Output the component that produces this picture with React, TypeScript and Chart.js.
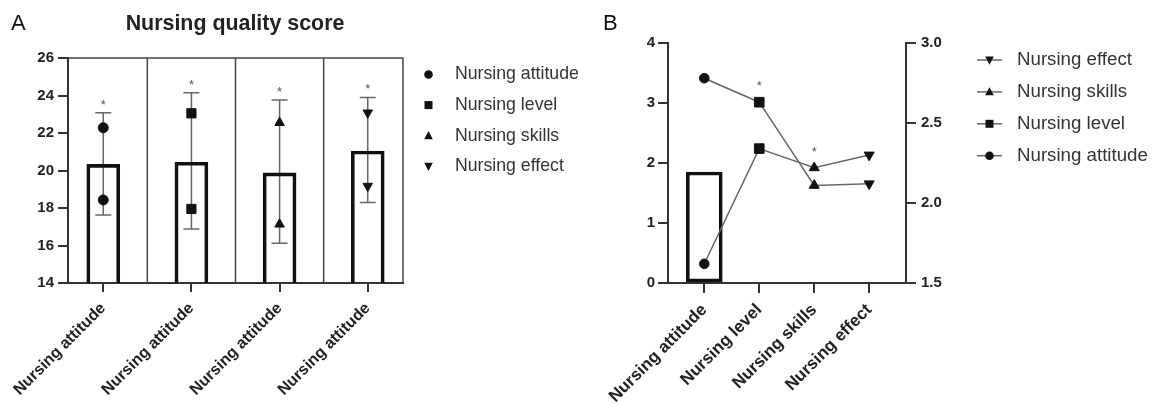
import React, { useEffect, useRef } from 'react';
import { Chart, registerables } from 'chart.js';
Chart.register(...registerables);

const FONT = '"Liberation Sans", Arial, Helvetica, sans-serif';

// ---------- Panel A data ----------
const categoriesA = ['Nursing attitude', 'Nursing attitude', 'Nursing attitude', 'Nursing attitude'];
const meansA = [20.33, 20.44, 19.87, 21.04];
const errLowA = [17.63, 16.88, 16.12, 18.3];
const errHighA = [23.08, 24.15, 23.76, 23.9];
const attitudePtsA = [22.28, 18.43];
const levelPtsA = [23.05, 17.95];
const skillsPtsA = [22.55, 17.13];
const effectPtsA = [23.08, 19.17];
const seriesNamesA = ['Nursing attitude', 'Nursing level', 'Nursing skills', 'Nursing effect'];
const titleA = 'Nursing quality score';

// ---------- Panel B data ----------
const categoriesB = ['Nursing attitude', 'Nursing level', 'Nursing skills', 'Nursing effect'];
const barB = [1.85];
const upperLineB = [2.78, 2.63, 2.11, 2.12];
const lowerLineB = [1.62, 2.34, 2.22, 2.3];
const sigUpperB = [false, true, false, false];
const sigLowerB = [false, false, true, false];
const legendNamesB = ['Nursing effect', 'Nursing skills', 'Nursing level', 'Nursing attitude'];

// marker shapes per category (style only)
const SHAPES = [
  { style: 'circle', rot: 0, r: 5 },
  { style: 'rect', rot: 0, r: 6.5 },
  { style: 'triangle', rot: 0, r: 5.5 },
  { style: 'triangle', rot: 180, r: 5.5 },
];

function marker(ctx: CanvasRenderingContext2D, kind: number, x: number, y: number, s: number) {
  ctx.save();
  ctx.fillStyle = '#111';
  ctx.beginPath();
  if (kind === 0) {
    ctx.arc(x, y, s, 0, Math.PI * 2);
  } else if (kind === 1) {
    ctx.rect(x - s, y - s, 2 * s, 2 * s);
  } else if (kind === 2) {
    ctx.moveTo(x, y - s * 1.1);
    ctx.lineTo(x + s, y + s * 0.8);
    ctx.lineTo(x - s, y + s * 0.8);
    ctx.closePath();
  } else {
    ctx.moveTo(x, y + s * 1.1);
    ctx.lineTo(x + s, y - s * 0.8);
    ctx.lineTo(x - s, y - s * 0.8);
    ctx.closePath();
  }
  ctx.fill();
  ctx.restore();
}

const yTickFont = { family: FONT, size: 15, weight: 'bold' as const };
const xTickFontA = { family: FONT, size: 16, weight: 'bold' as const };
const xTickFontB = { family: FONT, size: 17, weight: 'bold' as const };

export default function App() {
  const refA = useRef<HTMLCanvasElement>(null);
  const refB = useRef<HTMLCanvasElement>(null);

  useEffect(() => {
    // ---------------- Chart A ----------------
    const decorA = {
      id: 'decorA',
      beforeDatasetsDraw(chart: any) {
        const { ctx, chartArea: ca, scales } = chart;
        const xs = scales.x, ys = scales.y;
        ctx.save();
        // frame + dividers
        ctx.strokeStyle = '#444';
        ctx.lineWidth = 1.5;
        ctx.beginPath();
        ctx.moveTo(ca.left, ca.top);
        ctx.lineTo(ca.right, ca.top);
        ctx.lineTo(ca.right, ca.bottom);
        for (let i = 0; i < categoriesA.length - 1; i++) {
          const px = xs.getPixelForValue(i + 0.5);
          ctx.moveTo(px, ca.top);
          ctx.lineTo(px, ca.bottom);
        }
        ctx.stroke();
        // error bars
        ctx.strokeStyle = '#666';
        ctx.lineWidth = 1.5;
        for (let i = 0; i < meansA.length; i++) {
          const px = xs.getPixelForValue(i);
          const lo = ys.getPixelForValue(errLowA[i]);
          const hi = ys.getPixelForValue(errHighA[i]);
          ctx.beginPath();
          ctx.moveTo(px, lo);
          ctx.lineTo(px, hi);
          ctx.moveTo(px - 8, lo);
          ctx.lineTo(px + 8, lo);
          ctx.moveTo(px - 8, hi);
          ctx.lineTo(px + 8, hi);
          ctx.stroke();
        }
        ctx.restore();
      },
      afterDraw(chart: any) {
        const { ctx, scales } = chart;
        const xs = scales.x, ys = scales.y;
        ctx.save();
        // asterisks
        ctx.fillStyle = '#555';
        ctx.font = `13px ${FONT}`;
        ctx.textAlign = 'center';
        ctx.textBaseline = 'alphabetic';
        for (let i = 0; i < meansA.length; i++) {
          const px = xs.getPixelForValue(i);
          const hi = ys.getPixelForValue(errHighA[i]);
          ctx.fillText('*', px, hi - 4);
        }
        // panel letter
        ctx.fillStyle = '#111';
        ctx.textAlign = 'left';
        ctx.font = `22px ${FONT}`;
        ctx.fillText('A', 11, 30);
        // title
        ctx.fillStyle = '#222';
        ctx.textAlign = 'center';
        ctx.font = `bold 21.4px ${FONT}`;
        ctx.fillText(titleA, 235, 30);
        // legend
        ctx.textAlign = 'left';
        ctx.textBaseline = 'middle';
        ctx.font = `17.7px ${FONT}`;
        const sizes = [4.3, 4, 4.3, 4.3];
        seriesNamesA.forEach((name, i) => {
          const y = 74.5 + i * 30.6;
          marker(ctx, i, 428.5, y, sizes[i]);
          ctx.fillStyle = '#333';
          ctx.fillText(name, 455, y);
        });
        ctx.restore();
      },
    };

    const ptsA = [attitudePtsA, levelPtsA, skillsPtsA, effectPtsA];
    const chartA = new Chart(refA.current!, {
      type: 'bar',
      data: {
        datasets: [
          ...ptsA.map((arr, i) => ({
            type: 'scatter' as const,
            label: seriesNamesA[i],
            data: arr.map((y) => ({ x: i, y })),
            pointStyle: SHAPES[i].style as any,
            rotation: SHAPES[i].rot,
            pointRadius: SHAPES[i].r,
            backgroundColor: '#111',
            borderColor: '#111',
            borderWidth: 1,
          })),
          {
            type: 'bar' as const,
            label: 'mean',
            data: meansA.map((y, i) => ({ x: i, y })),
            backgroundColor: 'rgba(0,0,0,0)',
            borderColor: '#111',
            borderWidth: 3,
            borderSkipped: false,
            barThickness: 33,
          },
        ] as any,
      },
      options: {
        responsive: false,
        animation: false,
        layout: { padding: { left: 0, top: 58, right: 187, bottom: 0 } },
        plugins: { legend: { display: false }, tooltip: { enabled: false }, title: { display: false } },
        scales: {
          x: {
            type: 'linear',
            min: -0.4,
            max: 3.4,
            offset: false,
            afterBuildTicks: (s: any) => {
              s.ticks = categoriesA.map((_, i) => ({ value: i }));
            },
            afterFit: (s: any) => {
              s.height = 121;
            },
            ticks: {
              autoSkip: false,
              minRotation: 45,
              maxRotation: 45,
              padding: 7,
              color: '#222',
              font: xTickFontA,
              callback: (_v: any, idx: number) => categoriesA[idx],
            },
            grid: { offset: false, drawOnChartArea: false, drawTicks: true, tickLength: 9, color: '#333', lineWidth: 2 },
            border: { display: true, color: '#333', width: 2 },
          },
          y: {
            type: 'linear',
            min: 14,
            max: 26,
            afterFit: (s: any) => {
              s.width = 68;
            },
            ticks: { stepSize: 2, padding: 4, color: '#222', font: yTickFont },
            grid: { drawOnChartArea: false, drawTicks: true, tickLength: 10, color: '#333', lineWidth: 2 },
            border: { display: true, color: '#333', width: 2 },
          },
        },
      } as any,
      plugins: [decorA],
    });

    // ---------------- Chart B ----------------
    const decorB = {
      id: 'decorB',
      afterDraw(chart: any) {
        const { ctx, scales } = chart;
        const xs = scales.x, y2 = scales.y2;
        ctx.save();
        ctx.fillStyle = '#555';
        ctx.font = `13px ${FONT}`;
        ctx.textAlign = 'center';
        ctx.textBaseline = 'alphabetic';
        const stars = (vals: number[], sig: boolean[]) => {
          sig.forEach((s, i) => {
            if (!s) return;
            const px = xs.getPixelForValue(i);
            const py = y2.getPixelForValue(vals[i]);
            ctx.fillText('*', px, py - 12);
          });
        };
        stars(upperLineB, sigUpperB);
        stars(lowerLineB, sigLowerB);
        // panel letter
        ctx.fillStyle = '#111';
        ctx.textAlign = 'left';
        ctx.font = `22px ${FONT}`;
        ctx.fillText('B', 13, 30);
        // legend
        ctx.textBaseline = 'middle';
        ctx.font = `18.7px ${FONT}`;
        const kinds = [3, 2, 1, 0];
        const sizes = [4.3, 4.3, 4, 4.3];
        legendNamesB.forEach((name, i) => {
          const y = 60 + i * 31.9;
          ctx.strokeStyle = '#666';
          ctx.lineWidth = 1.5;
          ctx.beginPath();
          ctx.moveTo(387, y);
          ctx.lineTo(412, y);
          ctx.stroke();
          marker(ctx, kinds[i], 399.5, y, sizes[i]);
          ctx.fillStyle = '#333';
          ctx.fillText(name, 427, y);
        });
        ctx.restore();
      },
    };

    const lineDs = (vals: number[], label: string) => ({
      type: 'line' as const,
      label,
      data: vals.map((y, i) => ({ x: i, y })),
      yAxisID: 'y2',
      borderColor: '#666',
      borderWidth: 1.5,
      pointStyle: SHAPES.map((s) => s.style) as any,
      pointRotation: SHAPES.map((s) => s.rot),
      pointRadius: [4.8, 6.8, 5.8, 5.8],
      pointBackgroundColor: '#111',
      pointBorderColor: '#111',
      pointBorderWidth: 1,
      fill: false,
      tension: 0,
    });

    const chartB = new Chart(refB.current!, {
      type: 'bar',
      data: {
        datasets: [
          lineDs(upperLineB, 'upper'),
          lineDs(lowerLineB, 'lower'),
          {
            type: 'bar' as const,
            label: 'bar',
            data: barB.map((y, i) => ({ x: i, y })),
            yAxisID: 'y',
            backgroundColor: 'rgba(0,0,0,0)',
            borderColor: '#111',
            borderWidth: 3,
            borderSkipped: false,
            barThickness: 36,
          },
        ] as any,
      },
      options: {
        responsive: false,
        animation: false,
        layout: { padding: { left: 0, top: 43, right: 207, bottom: 0 } },
        plugins: { legend: { display: false }, tooltip: { enabled: false } },
        scales: {
          x: {
            type: 'linear',
            min: -0.66,
            max: 3.67,
            offset: false,
            afterBuildTicks: (s: any) => {
              s.ticks = categoriesB.map((_, i) => ({ value: i }));
            },
            afterFit: (s: any) => {
              s.height = 121;
            },
            ticks: {
              autoSkip: false,
              minRotation: 45,
              maxRotation: 45,
              padding: 7,
              color: '#222',
              font: xTickFontB,
              callback: (_v: any, idx: number) => categoriesB[idx],
            },
            grid: { offset: false, drawOnChartArea: false, drawTicks: true, tickLength: 10, color: '#333', lineWidth: 2 },
            border: { display: true, color: '#333', width: 2 },
          },
          y: {
            type: 'linear',
            position: 'left',
            min: 0,
            max: 4,
            afterFit: (s: any) => {
              s.width = 78;
            },
            ticks: { stepSize: 1, padding: 3, color: '#222', font: yTickFont },
            grid: { drawOnChartArea: false, drawTicks: true, tickLength: 10, color: '#333', lineWidth: 2 },
            border: { display: true, color: '#333', width: 2 },
          },
          y2: {
            type: 'linear',
            position: 'right',
            min: 1.5,
            max: 3.0,
            afterFit: (s: any) => {
              s.width = 40;
            },
            ticks: {
              stepSize: 0.5,
              padding: 5,
              color: '#222',
              font: yTickFont,
              callback: (v: any) => Number(v).toFixed(1),
            },
            grid: { drawOnChartArea: false, drawTicks: true, tickLength: 10, color: '#333', lineWidth: 2 },
            border: { display: true, color: '#333', width: 2 },
          },
        },
      } as any,
      plugins: [decorB],
    });

    return () => {
      chartA.destroy();
      chartB.destroy();
    };
  }, []);

  return (
    <div style={{ position: 'fixed', left: 0, top: 0, width: 1153, height: 404, background: '#fff' }}>
      <canvas
        ref={refA}
        width={590}
        height={404}
        style={{ position: 'absolute', left: 0, top: 0, width: 590, height: 404, display: 'block' }}
      />
      <canvas
        ref={refB}
        width={563}
        height={404}
        style={{ position: 'absolute', left: 590, top: 0, width: 563, height: 404, display: 'block' }}
      />
    </div>
  );
}
